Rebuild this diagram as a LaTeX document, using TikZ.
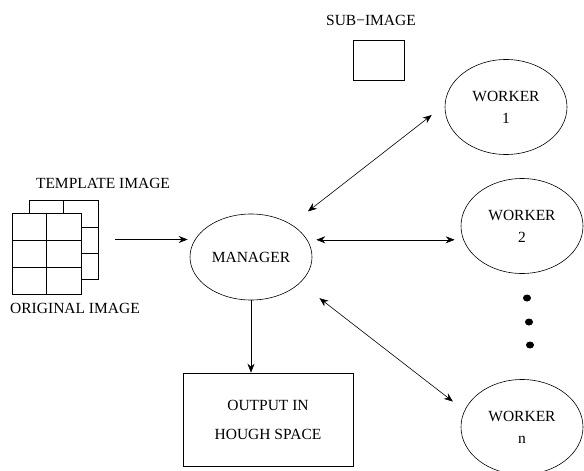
\documentclass[tikz,border=0pt]{standalone}
\usepackage{fontspec}
\setmainfont{Liberation Serif}
\usetikzlibrary{shapes.geometric,arrows.meta}
\tikzset{
  worker/.style={draw, ellipse, inner sep=0pt, minimum width=122pt, minimum height=95pt, align=center},
  sheet/.style={draw, inner sep=0pt, minimum width=69pt},
  arr/.style={-{Stealth[length=9pt,width=7pt]}},
  biarr/.style={{Stealth[length=9pt,width=7pt]}-{Stealth[length=9pt,width=7pt]}},
}
\begin{document}
\begin{tikzpicture}[x=1pt,y=-1pt,line width=0.6pt,font=\fontsize{15.5}{22}\selectfont]
     \useasboundingbox (0,0) rectangle (584,471);

     \node[sheet, minimum height=79pt] (tmpl) at (63.5,239.5) {};
     \draw (63,200) -- (63,213);
     \draw (81,227) -- (98,227);
     \draw (81,253) -- (98,253);
     \node[sheet, fill=white, minimum height=81pt] (orig) at (46.5,253.5) {};
     \draw (orig.north) -- (orig.south);
     \draw (12,240) -- (81,240);
     \draw (12,267) -- (81,267);
     \node (tmpllabel) at (103,183) {TEMPLATE IMAGE};
     \node (origlabel) at (75,308) {ORIGINAL IMAGE};

     \node[draw, ellipse, inner sep=0pt, minimum width=122pt, minimum height=86pt] (mgr) at (251,257) {MANAGER};

     \node (sublabel) at (371,20) {SUB−IMAGE};
     \node[draw, minimum width=51pt, minimum height=40pt] (sub) at (378.5,60) {};

     \node[worker] (w1) at (506,107) {WORKER\\1};
     \node[worker] (w2) at (522,226) {WORKER\\2};
     \node[worker] (wn) at (522,427) {WORKER\\n};
     \fill (527,298) ellipse (4 and 3.5);
     \fill (529,322) ellipse (4 and 3.5);
     \fill (530,345) ellipse (4 and 3.5);

     \node[draw, minimum width=170pt, minimum height=93pt, align=center] (out) at (268,419.5) {OUTPUT IN\\[7pt]HOUGH SPACE};

     \draw[arr, shorten <=17pt, shorten >=2pt] (tmpl.east) -- (mgr.west |- tmpl.east);
     \draw[arr] (mgr.south) -- (mgr.south |- out.north);
     \draw[biarr, shorten <=21pt, shorten >=16.5pt] (mgr.39) -- (w1.178);
     \draw[biarr, shorten <=9pt, shorten >=6pt] (mgr.17) -- (w2.west |- mgr.17);
     \draw[biarr, shorten <=24.6pt, shorten >=14.6pt] (mgr.332) -- (wn.164);
\end{tikzpicture}
\end{document}
